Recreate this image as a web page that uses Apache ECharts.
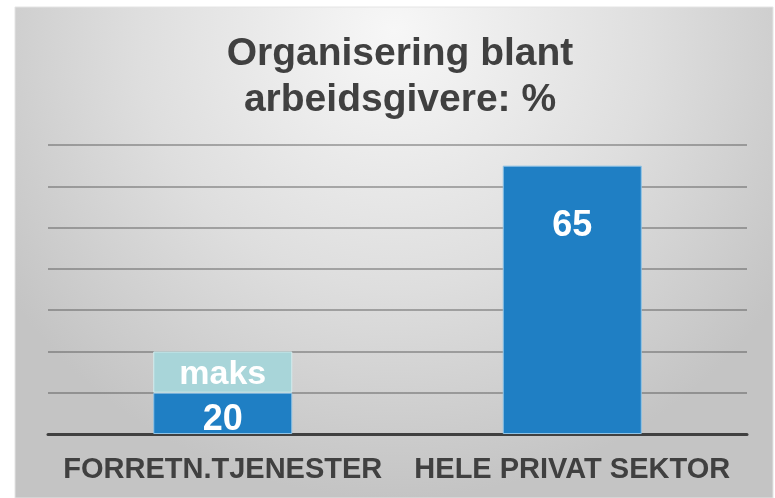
<!DOCTYPE html>
<html>
<head>
<meta charset="utf-8">
<script src="https://cdn.jsdelivr.net/npm/echarts@6/dist/echarts.min.js"></script>
<style>
  html, body { margin: 0; padding: 0; background: #fff; }
  #chart { width: 775px; height: 498px; }
</style>
</head>
<body>
<div id="chart"></div>
<script>
const categories = ['FORRETN.TJENESTER', 'HELE PRIVAT SEKTOR'];
// bar heights as drawn in the picture (the first bar is drawn one gridline high)
const organisert = [10, 65];
// text printed on the bars
const organisertLabels = ['20', '65'];
// light segment on top of the first bar
const maks = [10, '-'];
const maksLabel = 'maks';

const font = '"Liberation Sans", Arial, sans-serif';
const chart = echarts.init(document.getElementById('chart'));

const option = {
  animation: false,
  graphic: [{
    type: 'rect',
    z: -10,
    shape: { x: 15, y: 7, width: 758, height: 491 },
    style: {
      fill: new echarts.graphic.RadialGradient(0.5, 0.05, 0.95, [
        { offset: 0, color: '#f7f7f7' },
        { offset: 0.55, color: '#dedede' },
        { offset: 1, color: '#c4c4c4' }
      ]),
      stroke: '#e4e4e4',
      lineWidth: 1
    }
  }],
  title: {
    text: 'Organisering blant\narbeidsgivere: %',
    left: 400,
    top: 31,
    padding: 0,
    textAlign: 'center',
    textStyle: {
      fontFamily: font,
      fontSize: 39,
      fontWeight: 'bold',
      color: '#404040',
      lineHeight: 46
    }
  },
  grid: { left: 48, right: 28, top: 145, bottom: 64 },
  xAxis: {
    type: 'category',
    data: categories,
    axisLine: { lineStyle: { color: '#404040', width: 3 } },
    axisTick: { show: false },
    axisLabel: {
      interval: 0,
      margin: 21,
      fontFamily: font,
      fontSize: 29,
      fontWeight: 'bold',
      color: '#404040'
    }
  },
  yAxis: {
    type: 'value',
    min: 0,
    max: 70,
    interval: 10,
    axisLabel: { show: false },
    axisLine: { show: false },
    axisTick: { show: false },
    splitLine: { lineStyle: { color: 'rgba(70,70,70,0.4)', width: 2 } }
  },
  series: [
    {
      name: 'organisert',
      type: 'bar',
      stack: 'a',
      barWidth: 139,
      data: organisert.map((v, i) => ({
        value: v,
        label: { distance: i === 0 ? 9 : 42 }
      })),
      itemStyle: { color: '#1f7fc4', borderColor: '#8fc3e6', borderWidth: 1 },
      label: {
        show: true,
        position: 'insideTop',
        formatter: p => organisertLabels[p.dataIndex],
        fontFamily: font,
        fontSize: 36,
        fontWeight: 'bold',
        color: '#ffffff'
      }
    },
    {
      name: 'maks',
      type: 'bar',
      stack: 'a',
      barWidth: 139,
      data: maks,
      itemStyle: { color: '#a8d5d9', borderColor: '#d2ecee', borderWidth: 1 },
      label: {
        show: true,
        position: 'inside',
        offset: [0, 3],
        formatter: maksLabel,
        fontFamily: font,
        fontSize: 34,
        fontWeight: 'bold',
        color: '#ffffff'
      }
    }
  ]
};

chart.setOption(option);
</script>
</body>
</html>
